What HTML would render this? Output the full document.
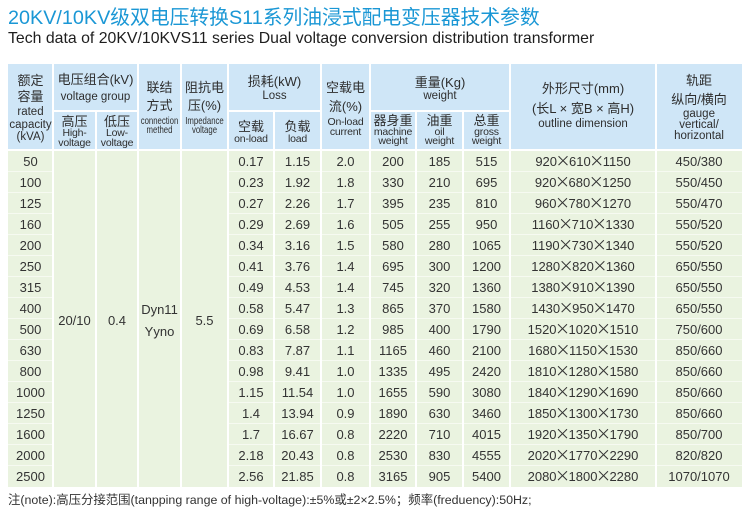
<!DOCTYPE html>
<html><head><meta charset="utf-8">
<style>
*{margin:0;padding:0;box-sizing:border-box}
html,body{width:750px;height:525px;background:#fff;overflow:hidden}
body{position:relative;font-family:"Liberation Sans","Noto Sans CJK SC",sans-serif;color:#333}
.abs{position:absolute}
.title{left:8px;top:6px;height:24px;line-height:24px;font-size:19.8px;color:#1a97d5;white-space:nowrap}
.sub{left:8px;top:29.5px;height:18px;line-height:18px;font-size:15.85px;color:#1e1e1e;white-space:nowrap}
.note{left:8px;top:492px;height:16px;line-height:16px;font-size:12.4px;color:#333;white-space:nowrap}
.hdr{left:8px;top:64px;width:734px;height:86px;background:#cfe6f7}
.bdy{left:8px;top:150px;width:734px;height:337px;background:#eaf3e0}
.v{width:2px;background:#fff}
.h{height:2px;background:#fff}
.hf{height:1px;background:rgba(255,255,255,0.55)}
.t{position:absolute;height:16px;line-height:16px;text-align:center;white-space:nowrap;color:#2e2e2e}
.c{font-size:13px}
.e{font-size:11.5px}
.s{font-size:10.5px;letter-spacing:-0.2px}
.n{font-size:10.5px;transform:scaleX(0.74);transform-origin:center}
.row{position:absolute;left:8px;height:21px;display:flex;font-size:13px;line-height:21px;color:#333}
.row div{text-align:center;white-space:nowrap}
.x{display:inline-block;width:15px;margin:0 -1.5px;height:21px;line-height:21px;vertical-align:top;text-align:center;font-family:"Noto Sans CJK SC","Liberation Sans",sans-serif;font-size:15px;position:relative;top:-1px}
.m{position:absolute;height:21px;line-height:21px;font-size:13px;text-align:center;color:#333;white-space:nowrap}
</style></head><body>

<div class="abs title">20KV/10KV级双电压转换S11系列油浸式配电变压器技术参数</div>
<div class="abs sub">Tech data of 20KV/10KVS11 series Dual voltage conversion distribution transformer</div>

<div class="abs hdr"></div>
<div class="abs bdy"></div>

<!-- vertical lines -->
<div class="abs v" style="left:52px;top:64px;height:423px"></div>
<div class="abs v" style="left:95px;top:111px;height:376px"></div>
<div class="abs v" style="left:137px;top:64px;height:423px"></div>
<div class="abs v" style="left:180px;top:64px;height:423px"></div>
<div class="abs v" style="left:227px;top:64px;height:423px"></div>
<div class="abs v" style="left:273px;top:111px;height:376px"></div>
<div class="abs v" style="left:320px;top:64px;height:423px"></div>
<div class="abs v" style="left:369px;top:64px;height:423px"></div>
<div class="abs v" style="left:415px;top:111px;height:376px"></div>
<div class="abs v" style="left:462px;top:111px;height:376px"></div>
<div class="abs v" style="left:509px;top:64px;height:423px"></div>
<div class="abs v" style="left:655px;top:64px;height:423px"></div>

<!-- horizontal header lines -->
<div class="abs h" style="left:53px;top:110px;width:85px"></div>
<div class="abs h" style="left:228px;top:110px;width:93px"></div>
<div class="abs h" style="left:370px;top:110px;width:140px"></div>
<div class="abs h" style="left:8px;top:149px;width:734px"></div>

<!-- faint row lines -->
<div class="abs hf" style="left:8px;top:171px;width:45px"></div><div class="abs hf" style="left:228px;top:171px;width:514px"></div>
<div class="abs hf" style="left:8px;top:192px;width:45px"></div><div class="abs hf" style="left:228px;top:192px;width:514px"></div>
<div class="abs hf" style="left:8px;top:213px;width:45px"></div><div class="abs hf" style="left:228px;top:213px;width:514px"></div>
<div class="abs hf" style="left:8px;top:234px;width:45px"></div><div class="abs hf" style="left:228px;top:234px;width:514px"></div>
<div class="abs hf" style="left:8px;top:255px;width:45px"></div><div class="abs hf" style="left:228px;top:255px;width:514px"></div>
<div class="abs hf" style="left:8px;top:276px;width:45px"></div><div class="abs hf" style="left:228px;top:276px;width:514px"></div>
<div class="abs hf" style="left:8px;top:297px;width:45px"></div><div class="abs hf" style="left:228px;top:297px;width:514px"></div>
<div class="abs hf" style="left:8px;top:318px;width:45px"></div><div class="abs hf" style="left:228px;top:318px;width:514px"></div>
<div class="abs hf" style="left:8px;top:339px;width:45px"></div><div class="abs hf" style="left:228px;top:339px;width:514px"></div>
<div class="abs hf" style="left:8px;top:360px;width:45px"></div><div class="abs hf" style="left:228px;top:360px;width:514px"></div>
<div class="abs hf" style="left:8px;top:381px;width:45px"></div><div class="abs hf" style="left:228px;top:381px;width:514px"></div>
<div class="abs hf" style="left:8px;top:402px;width:45px"></div><div class="abs hf" style="left:228px;top:402px;width:514px"></div>
<div class="abs hf" style="left:8px;top:423px;width:45px"></div><div class="abs hf" style="left:228px;top:423px;width:514px"></div>
<div class="abs hf" style="left:8px;top:444px;width:45px"></div><div class="abs hf" style="left:228px;top:444px;width:514px"></div>
<div class="abs hf" style="left:8px;top:465px;width:45px"></div><div class="abs hf" style="left:228px;top:465px;width:514px"></div>

<!-- header text -->
<div class="t c" style="left:8px;width:45px;top:72.7px">额定</div>
<div class="t c" style="left:8px;width:45px;top:88.7px">容量</div>
<div class="t e" style="left:8px;width:45px;top:103.7px">rated</div>
<div class="t e" style="left:8px;width:45px;top:117px">capacity</div>
<div class="t e" style="left:8px;width:45px;top:129.3px">(kVA)</div>

<div class="t c" style="left:53px;width:85px;top:72px">电压组合(kV)</div>
<div class="t e" style="left:53px;width:85px;top:88.7px">voltage group</div>

<div class="t c" style="left:53px;width:43px;top:113.7px">高压</div>
<div class="t s" style="left:53px;width:43px;top:125.3px">High-</div>
<div class="t s" style="left:53px;width:43px;top:134.7px">voltage</div>
<div class="t c" style="left:96px;width:42px;top:113.7px">低压</div>
<div class="t s" style="left:96px;width:42px;top:125.3px">Low-</div>
<div class="t s" style="left:96px;width:42px;top:134.7px">voltage</div>

<div class="t c" style="left:138px;width:43px;top:80.3px">联结</div>
<div class="t c" style="left:138px;width:43px;top:98px">方式</div>
<div class="t n" style="left:128px;width:63px;top:112.7px">connection</div>
<div class="t n" style="left:128px;width:63px;top:122px">methed</div>

<div class="t c" style="left:181px;width:47px;top:80.3px">阻抗电</div>
<div class="t c" style="left:181px;width:47px;top:98px">压(%)</div>
<div class="t n" style="left:172px;width:65px;top:112.7px">Impedance</div>
<div class="t n" style="left:172px;width:65px;top:122px">voltage</div>

<div class="t c" style="left:228px;width:93px;top:73.7px">损耗(kW)</div>
<div class="t e" style="left:228px;width:93px;top:88px">Loss</div>
<div class="t c" style="left:228px;width:46px;top:118.7px">空载</div>
<div class="t s" style="left:228px;width:46px;top:131.3px">on-load</div>
<div class="t c" style="left:274px;width:47px;top:118.7px">负载</div>
<div class="t s" style="left:274px;width:47px;top:131.3px">load</div>

<div class="t c" style="left:321px;width:49px;top:80px">空载电</div>
<div class="t c" style="left:321px;width:49px;top:98.7px">流(%)</div>
<div class="t s" style="left:321px;width:49px;top:114.3px">On-load</div>
<div class="t s" style="left:321px;width:49px;top:123.7px">current</div>

<div class="t c" style="left:370px;width:140px;top:75.3px">重量(Kg)</div>
<div class="t e" style="left:370px;width:140px;top:87.7px">weight</div>
<div class="t c" style="left:370px;width:46px;top:112.7px">器身重</div>
<div class="t s" style="left:370px;width:46px;top:123.7px">machine</div>
<div class="t s" style="left:370px;width:46px;top:133.3px">weight</div>
<div class="t c" style="left:416px;width:47px;top:112.7px">油重</div>
<div class="t s" style="left:416px;width:47px;top:123.7px">oil</div>
<div class="t s" style="left:416px;width:47px;top:133.3px">weight</div>
<div class="t c" style="left:463px;width:47px;top:112.7px">总重</div>
<div class="t s" style="left:463px;width:47px;top:123.7px">gross</div>
<div class="t s" style="left:463px;width:47px;top:133.3px">weight</div>

<div class="t c" style="left:510px;width:146px;top:81.3px">外形尺寸(mm)</div>
<div class="t c" style="left:510px;width:146px;top:101.3px">(长L × 宽B × 高H)</div>
<div class="t e" style="left:510px;width:146px;top:116.3px">outline dimension</div>

<div class="t c" style="left:656px;width:86px;top:72.7px">轨距</div>
<div class="t c" style="left:656px;width:86px;top:92px">纵向/横向</div>
<div class="t e" style="left:656px;width:86px;top:106.3px">gauge</div>
<div class="t e" style="left:656px;width:86px;top:117.3px">vertical/</div>
<div class="t e" style="left:656px;width:86px;top:128px">horizontal</div>

<!-- merged body cells -->
<div class="m" style="left:53px;width:43px;top:310.4px">20/10</div>
<div class="m" style="left:96px;width:42px;top:310.4px">0.4</div>
<div class="m" style="left:138px;width:43px;top:298.7px">Dyn11</div>
<div class="m" style="left:138px;width:43px;top:320.7px">Yyno</div>
<div class="m" style="left:181px;width:47px;top:309.7px">5.5</div>

<!-- body rows -->
<div class="row" style="top:151px"><div style="width:45px">50</div><div style="width:175px"></div><div style="width:46px">0.17</div><div style="width:47px">1.15</div><div style="width:49px">2.0</div><div style="width:46px">200</div><div style="width:47px">185</div><div style="width:47px">515</div><div style="width:146px">920<span class="x">×</span>610<span class="x">×</span>1150</div><div style="width:86px">450/380</div></div>
<div class="row" style="top:172px"><div style="width:45px">100</div><div style="width:175px"></div><div style="width:46px">0.23</div><div style="width:47px">1.92</div><div style="width:49px">1.8</div><div style="width:46px">330</div><div style="width:47px">210</div><div style="width:47px">695</div><div style="width:146px">920<span class="x">×</span>680<span class="x">×</span>1250</div><div style="width:86px">550/450</div></div>
<div class="row" style="top:193px"><div style="width:45px">125</div><div style="width:175px"></div><div style="width:46px">0.27</div><div style="width:47px">2.26</div><div style="width:49px">1.7</div><div style="width:46px">395</div><div style="width:47px">235</div><div style="width:47px">810</div><div style="width:146px">960<span class="x">×</span>780<span class="x">×</span>1270</div><div style="width:86px">550/470</div></div>
<div class="row" style="top:214px"><div style="width:45px">160</div><div style="width:175px"></div><div style="width:46px">0.29</div><div style="width:47px">2.69</div><div style="width:49px">1.6</div><div style="width:46px">505</div><div style="width:47px">255</div><div style="width:47px">950</div><div style="width:146px">1160<span class="x">×</span>710<span class="x">×</span>1330</div><div style="width:86px">550/520</div></div>
<div class="row" style="top:235px"><div style="width:45px">200</div><div style="width:175px"></div><div style="width:46px">0.34</div><div style="width:47px">3.16</div><div style="width:49px">1.5</div><div style="width:46px">580</div><div style="width:47px">280</div><div style="width:47px">1065</div><div style="width:146px">1190<span class="x">×</span>730<span class="x">×</span>1340</div><div style="width:86px">550/520</div></div>
<div class="row" style="top:256px"><div style="width:45px">250</div><div style="width:175px"></div><div style="width:46px">0.41</div><div style="width:47px">3.76</div><div style="width:49px">1.4</div><div style="width:46px">695</div><div style="width:47px">300</div><div style="width:47px">1200</div><div style="width:146px">1280<span class="x">×</span>820<span class="x">×</span>1360</div><div style="width:86px">650/550</div></div>
<div class="row" style="top:277px"><div style="width:45px">315</div><div style="width:175px"></div><div style="width:46px">0.49</div><div style="width:47px">4.53</div><div style="width:49px">1.4</div><div style="width:46px">745</div><div style="width:47px">320</div><div style="width:47px">1360</div><div style="width:146px">1380<span class="x">×</span>910<span class="x">×</span>1390</div><div style="width:86px">650/550</div></div>
<div class="row" style="top:298px"><div style="width:45px">400</div><div style="width:175px"></div><div style="width:46px">0.58</div><div style="width:47px">5.47</div><div style="width:49px">1.3</div><div style="width:46px">865</div><div style="width:47px">370</div><div style="width:47px">1580</div><div style="width:146px">1430<span class="x">×</span>950<span class="x">×</span>1470</div><div style="width:86px">650/550</div></div>
<div class="row" style="top:319px"><div style="width:45px">500</div><div style="width:175px"></div><div style="width:46px">0.69</div><div style="width:47px">6.58</div><div style="width:49px">1.2</div><div style="width:46px">985</div><div style="width:47px">400</div><div style="width:47px">1790</div><div style="width:146px">1520<span class="x">×</span>1020<span class="x">×</span>1510</div><div style="width:86px">750/600</div></div>
<div class="row" style="top:340px"><div style="width:45px">630</div><div style="width:175px"></div><div style="width:46px">0.83</div><div style="width:47px">7.87</div><div style="width:49px">1.1</div><div style="width:46px">1165</div><div style="width:47px">460</div><div style="width:47px">2100</div><div style="width:146px">1680<span class="x">×</span>1150<span class="x">×</span>1530</div><div style="width:86px">850/660</div></div>
<div class="row" style="top:361px"><div style="width:45px">800</div><div style="width:175px"></div><div style="width:46px">0.98</div><div style="width:47px">9.41</div><div style="width:49px">1.0</div><div style="width:46px">1335</div><div style="width:47px">495</div><div style="width:47px">2420</div><div style="width:146px">1810<span class="x">×</span>1280<span class="x">×</span>1580</div><div style="width:86px">850/660</div></div>
<div class="row" style="top:382px"><div style="width:45px">1000</div><div style="width:175px"></div><div style="width:46px">1.15</div><div style="width:47px">11.54</div><div style="width:49px">1.0</div><div style="width:46px">1655</div><div style="width:47px">590</div><div style="width:47px">3080</div><div style="width:146px">1840<span class="x">×</span>1290<span class="x">×</span>1690</div><div style="width:86px">850/660</div></div>
<div class="row" style="top:403px"><div style="width:45px">1250</div><div style="width:175px"></div><div style="width:46px">1.4</div><div style="width:47px">13.94</div><div style="width:49px">0.9</div><div style="width:46px">1890</div><div style="width:47px">630</div><div style="width:47px">3460</div><div style="width:146px">1850<span class="x">×</span>1300<span class="x">×</span>1730</div><div style="width:86px">850/660</div></div>
<div class="row" style="top:424px"><div style="width:45px">1600</div><div style="width:175px"></div><div style="width:46px">1.7</div><div style="width:47px">16.67</div><div style="width:49px">0.8</div><div style="width:46px">2220</div><div style="width:47px">710</div><div style="width:47px">4015</div><div style="width:146px">1920<span class="x">×</span>1350<span class="x">×</span>1790</div><div style="width:86px">850/700</div></div>
<div class="row" style="top:445px"><div style="width:45px">2000</div><div style="width:175px"></div><div style="width:46px">2.18</div><div style="width:47px">20.43</div><div style="width:49px">0.8</div><div style="width:46px">2530</div><div style="width:47px">830</div><div style="width:47px">4555</div><div style="width:146px">2020<span class="x">×</span>1770<span class="x">×</span>2290</div><div style="width:86px">820/820</div></div>
<div class="row" style="top:466px"><div style="width:45px">2500</div><div style="width:175px"></div><div style="width:46px">2.56</div><div style="width:47px">21.85</div><div style="width:49px">0.8</div><div style="width:46px">3165</div><div style="width:47px">905</div><div style="width:47px">5400</div><div style="width:146px">2080<span class="x">×</span>1800<span class="x">×</span>2280</div><div style="width:86px">1070/1070</div></div>

<div class="abs note">注(note):高压分接范围(tanpping range of high-voltage):±5%或±2×2.5%；频率(freduency):50Hz;</div>

</body></html>
